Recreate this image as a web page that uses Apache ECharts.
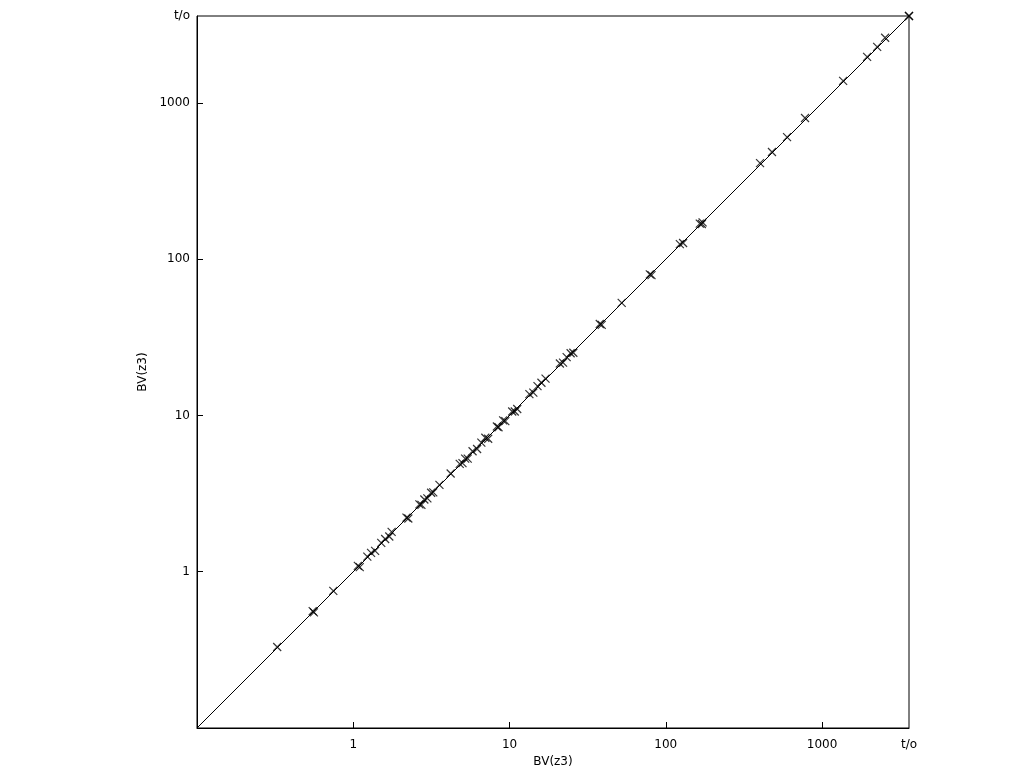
<!DOCTYPE html>
<html><head><meta charset="utf-8">
<script src="https://cdn.jsdelivr.net/npm/echarts@6/dist/echarts.min.js"></script>
<style>html,body{margin:0;padding:0;background:#fff;overflow:hidden}#c{width:1024px;height:768px}</style>
</head><body><div id="c"></div>
<script>
const TIMEOUT = 3600;
const tickValues = [1, 10, 100, 1000, TIMEOUT];
const xValues = [0.326, 0.55, 0.56, 0.745, 1.07, 1.10, 1.23, 1.30, 1.38, 1.51, 1.60, 1.70, 1.76, 2.19, 2.25, 2.65, 2.73, 2.85, 2.98, 3.15, 3.25, 3.56, 4.2, 4.8, 5.0, 5.2, 5.4, 5.8, 6.2, 6.6, 7.0, 7.3, 8.3, 8.5, 9.1, 9.4, 10.4, 10.8, 11.2, 13.4, 14.2, 15.1, 16.0, 17.0, 21.0, 22.0, 23.2, 24.6, 25.6, 37.8, 38.9, 52.2, 79, 81, 123, 129, 165, 170, 172, 401, 478, 597, 778, 1364, 1942, 2252, 2533, 3600, 3600];
const yValues = [0.33, 0.56, 0.55, 0.755, 1.09, 1.07, 1.25, 1.32, 1.36, 1.53, 1.62, 1.68, 1.80, 2.22, 2.19, 2.70, 2.68, 2.90, 2.95, 3.20, 3.22, 3.60, 4.25, 4.9, 4.95, 5.3, 5.3, 5.9, 6.1, 6.7, 7.2, 7.1, 8.5, 8.4, 9.3, 9.2, 10.6, 10.6, 11.0, 13.7, 14.0, 15.4, 16.2, 17.2, 21.5, 21.8, 23.6, 25.0, 25.2, 38.5, 38.0, 52.5, 80, 79, 125, 127, 169, 168, 172, 412, 485, 604, 801, 1383, 1972, 2286, 2612, 3600, 3600];
const diagonal = [[0.1, 0.1], [TIMEOUT, TIMEOUT]];

const points = xValues.map((x, i) => [x, yValues[i]]);
const fmt = v => (v >= TIMEOUT - 1 ? 't/o' : String(v));
const font = { fontFamily: 'DejaVu Sans', fontSize: 12, color: '#000' };

function axis(isX) {
  return {
    type: 'log', logBase: 10, min: 0.1, max: TIMEOUT,
    name: 'BV(z3)', nameLocation: 'middle',
    nameGap: isX ? 25 : 47,
    nameTextStyle: { fontFamily: 'DejaVu Sans', fontSize: 12, color: '#000' },
    axisLine: { show: true, lineStyle: { color: '#000', width: 1 } },
    axisTick: { show: true, inside: true, length: 6, customValues: [1, 10, 100, 1000], lineStyle: { color: '#000' } },
    minorTick: { show: false },
    axisLabel: Object.assign({ customValues: tickValues, formatter: fmt, margin: isX ? 11 : 7,
      padding: isX ? 0 : [4, 0, 0, 0] }, font),
    splitLine: { show: false }
  };
}

const chart = echarts.init(document.getElementById('c'), null, { renderer: 'canvas' });
chart.setOption({
  animation: false,
  backgroundColor: '#fff',
  grid: { left: 197, top: 16, width: 712, height: 712, show: true, borderColor: '#000', borderWidth: 1, containLabel: false, outerBoundsMode: 'none' },
  xAxis: axis(true),
  yAxis: axis(false),
  series: [
    { type: 'line', data: diagonal, symbol: 'none', lineStyle: { color: '#000', width: 1 }, silent: true },
    { type: 'scatter', data: points, symbol: 'path://M0,0L10,10M10,0L0,10', symbolSize: 8,
      itemStyle: { color: 'none', borderColor: '#000', borderWidth: 1.2 } }
  ]
});
</script></body></html>
